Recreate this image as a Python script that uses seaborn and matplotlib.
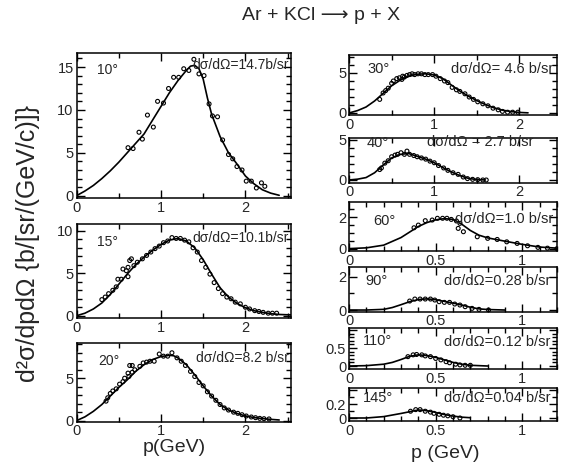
import numpy as np
import matplotlib
matplotlib.use("Agg")
import matplotlib.pyplot as plt
import seaborn as sns
from matplotlib.ticker import MultipleLocator, FuncFormatter

# ---------------- data ----------------
# 10 deg
d10_p = [0.61,0.67,0.74,0.78,0.84,0.91,0.96,1.03,1.09,1.15,1.21,1.27,1.33,1.39,1.45,1.51,1.57,1.61,1.67,1.73,1.80,1.85,1.90,1.96,2.01,2.07,2.13,2.19,2.23]
d10_y = [5.6,5.5,7.4,6.6,9.4,8.0,11.0,10.8,12.5,13.8,13.8,14.8,14.6,15.9,14.2,14.0,10.7,9.3,9.2,6.5,4.8,4.3,3.4,3.0,1.7,1.7,0.9,1.5,1.1]
c10_p = [0,0.1,0.2,0.3,0.4,0.5,0.6,0.7,0.8,0.9,1.0,1.1,1.2,1.3,1.35,1.4,1.45,1.5,1.55,1.6,1.7,1.8,1.9,2.0,2.1,2.2,2.3,2.4]
c10_y = [0,0.55,1.2,2.0,2.9,3.9,5.0,6.1,7.2,8.8,10.4,12.0,13.4,14.6,15.1,15.2,14.8,13.6,11.4,9.5,6.9,5.0,3.7,2.3,1.4,0.7,0.3,0.05]
# 15 deg
d15_p = [0.30,0.34,0.38,0.43,0.47,0.49,0.53,0.55,0.59,0.61,0.61,0.63,0.65,0.68,0.72,0.78,0.83,0.88,0.93,0.98,1.03,1.08,1.13,1.18,1.23,1.28,1.33,1.38,1.43,1.48,1.53,1.58,1.63,1.68,1.73,1.78,1.83,1.88,1.94,2.00,2.05,2.11,2.16,2.21,2.27,2.32,2.37]
d15_y = [1.9,2.2,2.6,3.0,3.4,4.3,4.3,5.5,5.3,5.7,4.6,6.5,6.7,5.9,6.3,6.7,7.1,7.5,7.9,8.2,8.6,8.8,9.2,9.1,9.1,8.9,8.7,8.0,7.5,6.5,5.7,4.9,3.9,3.2,2.6,2.2,2.0,1.6,1.4,1.0,0.8,0.6,0.5,0.4,0.3,0.3,0.3]
c15_p = [0,0.1,0.2,0.3,0.4,0.5,0.6,0.7,0.8,0.9,1.0,1.1,1.2,1.3,1.4,1.5,1.6,1.7,1.8,1.9,2.0,2.1,2.2,2.3,2.4,2.54]
c15_y = [0,0.3,0.8,1.5,2.5,3.7,4.9,6.0,6.9,7.7,8.4,8.9,9.1,8.8,8.0,6.6,4.9,3.3,2.2,1.45,0.95,0.6,0.4,0.25,0.15,0.1]
# 20 deg
d20_p = [0.35,0.37,0.40,0.43,0.47,0.51,0.55,0.57,0.61,0.62,0.63,0.66,0.66,0.69,0.75,0.79,0.83,0.87,0.92,0.98,1.03,1.08,1.13,1.19,1.24,1.29,1.35,1.40,1.45,1.50,1.55,1.60,1.65,1.70,1.75,1.80,1.86,1.91,1.96,2.01,2.07,2.12,2.17,2.22,2.28]
d20_y = [2.3,2.7,3.2,3.5,3.75,4.3,4.6,5.0,5.6,5.2,6.5,6.5,5.7,6.0,6.4,6.8,6.9,7.0,7.0,7.85,7.6,7.6,8.0,7.4,7.0,6.5,5.8,5.2,4.5,4.1,3.4,2.9,2.4,1.9,1.5,1.25,1.0,0.86,0.7,0.55,0.43,0.35,0.27,0.23,0.2]
c20_p = [0,0.1,0.2,0.3,0.4,0.5,0.6,0.7,0.8,0.9,1.0,1.1,1.15,1.2,1.3,1.4,1.5,1.6,1.7,1.8,1.9,2.0,2.1,2.2,2.3,2.4]
c20_y = [0,0.45,1.1,1.9,2.9,3.9,4.8,5.8,6.6,7.2,7.55,7.7,7.65,7.4,6.6,5.4,4.1,2.9,1.9,1.25,0.85,0.55,0.37,0.25,0.15,0.08]
# 30 deg
d30_p = [0.36,0.40,0.43,0.46,0.50,0.52,0.56,0.59,0.62,0.63,0.65,0.68,0.71,0.74,0.77,0.81,0.85,0.89,0.93,0.98,1.02,1.07,1.12,1.16,1.21,1.26,1.30,1.36,1.41,1.46,1.51,1.57,1.63,1.69,1.75,1.80,1.86,1.92,1.98]
d30_y = [1.7,2.5,2.8,3.1,3.7,4.0,4.3,4.4,4.2,4.6,4.5,4.7,4.8,4.9,4.8,4.9,4.9,4.8,4.8,4.8,4.6,4.3,4.0,3.8,3.2,2.9,2.7,2.4,2.0,1.7,1.4,1.15,0.9,0.6,0.4,0.2,0.1,0.1,0.1]
c30_p = [0,0.1,0.2,0.3,0.4,0.5,0.6,0.7,0.8,0.9,1.0,1.1,1.2,1.3,1.4,1.5,1.6,1.7,1.8,1.9,2.0,2.1]
c30_y = [0,0.3,0.75,1.5,2.45,3.4,4.1,4.6,4.85,4.9,4.75,4.3,3.5,2.75,2.1,1.55,1.05,0.65,0.35,0.18,0.07,0.02]
# 40 deg
d40_p = [0.36,0.38,0.42,0.46,0.50,0.54,0.57,0.61,0.65,0.68,0.71,0.76,0.80,0.85,0.90,0.95,1.00,1.05,1.11,1.16,1.22,1.28,1.34,1.39,1.45,1.51,1.57,1.61]
d40_y = [1.3,1.5,2.1,2.4,2.9,3.1,3.2,3.4,3.2,3.6,3.2,3.05,2.9,2.75,2.6,2.35,2.15,1.8,1.5,1.2,0.9,0.7,0.37,0.17,0.08,0.04,0.0,0.0]
c40_p = [0,0.1,0.2,0.3,0.4,0.5,0.6,0.7,0.8,0.9,1.0,1.1,1.2,1.3,1.4,1.5,1.6]
c40_y = [0,0.1,0.3,0.9,1.85,2.75,3.2,3.3,2.95,2.6,2.15,1.55,1.0,0.55,0.2,0.05,0.0]
# 60 deg
d60_p = [0.375,0.40,0.44,0.48,0.51,0.54,0.565,0.59,0.62,0.64,0.63,0.66,0.74,0.80,0.855,0.91,0.97,1.03,1.09,1.145,1.2]
d60_y = [1.32,1.49,1.77,1.81,1.92,1.92,1.92,1.85,1.75,1.6,1.28,1.07,0.75,0.65,0.58,0.43,0.33,0.18,0.08,0.03,0.0]
c60_p = [0,0.1,0.2,0.3,0.4,0.45,0.5,0.55,0.6,0.65,0.7,0.75,0.8,0.9,1.0,1.1,1.2]
c60_y = [0,0.05,0.22,0.7,1.4,1.65,1.82,1.9,1.85,1.55,1.15,0.85,0.68,0.47,0.27,0.1,0.03]
# 90 deg
d90_p = [0.35,0.38,0.41,0.44,0.47,0.495,0.52,0.55,0.58,0.61,0.64,0.67,0.71,0.75,0.805]
d90_y = [0.54,0.66,0.66,0.66,0.66,0.6,0.5,0.46,0.46,0.36,0.3,0.2,0.1,0.04,0.0]
c90_p = [0,0.1,0.2,0.25,0.3,0.35,0.4,0.45,0.5,0.55,0.6,0.65,0.7,0.75,0.8,0.9]
c90_y = [0,0.0,0.04,0.15,0.32,0.5,0.63,0.67,0.62,0.52,0.42,0.3,0.17,0.07,0.03,0.0]
# 110 deg
d110_p = [0.34,0.37,0.39,0.42,0.44,0.47,0.50,0.53,0.56,0.58,0.615,0.64,0.67,0.70]
d110_y = [0.26,0.31,0.32,0.31,0.28,0.26,0.21,0.17,0.12,0.09,0.05,0.03,0.02,0.02]
c110_p = [0,0.1,0.2,0.25,0.3,0.35,0.4,0.45,0.5,0.55,0.6,0.65,0.7,0.8]
c110_y = [0,0.01,0.05,0.1,0.18,0.27,0.31,0.29,0.24,0.17,0.1,0.05,0.02,0.0]
# 145 deg
d145_p = [0.355,0.385,0.41,0.44,0.47,0.49,0.52,0.545,0.57,0.60,0.64]
d145_y = [0.097,0.12,0.12,0.097,0.084,0.067,0.053,0.04,0.031,0.018,0.0]
c145_p = [0,0.1,0.2,0.3,0.35,0.4,0.45,0.5,0.55,0.6,0.65,0.7]
c145_y = [0,0.0,0.02,0.065,0.09,0.115,0.105,0.08,0.05,0.028,0.012,0.004]

angles = ["10°", "15°", "20°", "30°", "40°", "60°", "90°", "110°", "145°"]
xsec = ["dσ/dΩ=14.7b/sr", "dσ/dΩ=10.1b/sr", "dσ/dΩ=8.2 b/sr",
        "dσ/dΩ= 4.6 b/sr", "dσ/dΩ = 2.7 b/sr", "dσ/dΩ=1.0 b/sr",
        "dσ/dΩ=0.28 b/sr", "dσ/dΩ=0.12 b/sr", "dσ/dΩ=0.04 b/sr"]
ylabels_shown = [[0, 5, 10, 15], [0, 5, 10], [0, 5], [0, 5], [0, 5],
                 [0, 2], [0, 2], [0, 0.5], [0, 0.2]]
title = "Ar + KCl ⟶ p + X"
ylabel = "d²σ/dpdΩ {b/[sr/(GeV/c)]}"
xlabel_left = "p(GeV)"
xlabel_right = "p (GeV)"

# ---------------- style / layout ----------------
sns.set_style("ticks")
plt.rcParams["font.family"] = ["Liberation Sans", "DejaVu Sans"]
plt.rcParams["axes.linewidth"] = 1.1

W, H = 561, 468
fig = plt.figure(figsize=(W / 100, H / 100), dpi=100)

def rect(x0, y0, x1, y1):
    return [x0 / W, 1 - y1 / H, (x1 - x0) / W, (y1 - y0) / H]

xfmt = FuncFormatter(lambda v, pos: "%g" % round(v, 3))

def make_yfmt(shown):
    def f(v, pos):
        for s in shown:
            if abs(v - s) < 1e-6:
                return "%g" % s
        return ""
    return FuncFormatter(f)

panels = [
    (d10_p, d10_y, c10_p, c10_y, (76.5, 53.3, 291, 198.3), (0, 2.54), (-0.3, 16.6), 1, 0.5, 5, 1, (97, 70), (289, 65), 10),
    (d15_p, d15_y, c15_p, c15_y, (76.5, 224, 291, 318.3), (0, 2.54), (-0.3, 10.8), 1, 0.5, 5, 1, (97, 242), (289, 238), 10),
    (d20_p, d20_y, c20_p, c20_y, (76.5, 343, 291, 421.5), (0, 2.54), (-0.1, 9.15), 1, 0.5, 5, 1, (98, 361), (289, 358), 10),
    (d30_p, d30_y, c30_p, c30_y, (349, 55, 557, 115), (0, 2.44), (-0.25, 7.25), 1, 0.5, 5, 1, (367, 69), (553, 69), 10.5),
    (d40_p, d40_y, c40_p, c40_y, (349, 137.5, 557, 182.7), (0, 2.44), (-0.34, 5.3), 1, 0.5, 5, 1, (367, 143), (533, 142), 10.5),
    (d60_p, d60_y, c60_p, c60_y, (349, 201.7, 557, 251), (0, 1.2), (-0.15, 2.97), 0.5, 0.1, 2, 0.5, (373, 221), (553, 219), 10.5),
    (d90_p, d90_y, c90_p, c90_y, (349, 266.7, 557, 311.7), (0, 1.2), (-0.1, 2.6), 0.5, 0.1, 2, 1, (365, 281), (550, 281), 10.5),
    (d110_p, d110_y, c110_p, c110_y, (349, 328.3, 557, 369), (0, 1.2), (-0.083, 1.047), 0.5, 0.1, 0.5, 0.1, (363, 341), (550, 342), 10.5),
    (d145_p, d145_y, c145_p, c145_y, (349, 388, 557, 421), (0, 1.2), (-0.043, 0.43), 0.5, 0.1, 0.2, 0.1, (363, 398), (550, 398), 10.5),
]

for i, (dp, dy, cp, cy, box, xl, yl, xmaj, xmin, ymaj, ymin, apos, spos, fs) in enumerate(panels):
    ax = fig.add_axes(rect(*box))
    sns.lineplot(x=cp, y=cy, ax=ax, color="black", lw=1.2, sort=False, estimator=None)
    sns.scatterplot(x=dp, y=dy, ax=ax, marker="o", s=8, linewidth=0.8)
    coll = ax.collections[-1]
    coll.set_facecolor("none")
    coll.set_edgecolor("black")
    ax.set_xlim(*xl)
    ax.set_ylim(*yl)
    ax.xaxis.set_major_locator(MultipleLocator(xmaj))
    ax.xaxis.set_minor_locator(MultipleLocator(xmin))
    ax.yaxis.set_major_locator(MultipleLocator(ymaj))
    ax.yaxis.set_minor_locator(MultipleLocator(ymin))
    ax.xaxis.set_major_formatter(xfmt)
    ax.yaxis.set_major_formatter(make_yfmt(ylabels_shown[i]))
    ax.tick_params(which="both", direction="in", top=True, right=True, labelsize=10.5, color="black", width=1.0)
    ax.tick_params(which="major", length=6, pad=2)
    ax.tick_params(which="minor", length=3.5)
    ax.set_xlabel("")
    ax.set_ylabel("")
    for s in ax.spines.values():
        s.set_visible(True)
        s.set_color("black")
    fig.text(apos[0] / W, 1 - apos[1] / H, angles[i], ha="left", va="center", fontsize=fs)
    fig.text(spos[0] / W, 1 - spos[1] / H, xsec[i], ha="right", va="center", fontsize=fs)

fig.text(321 / W, 1 - 16 / H, title, ha="center", va="center", fontsize=14)
fig.text(28 / W, 1 - 243 / H, ylabel, ha="center", va="center", rotation=90, fontsize=18)
fig.text(174 / W, 1 - 448 / H, xlabel_left, ha="center", va="center", fontsize=14)
fig.text(445 / W, 1 - 454 / H, xlabel_right, ha="center", va="center", fontsize=14)

fig.savefig("out.png", dpi=100)
